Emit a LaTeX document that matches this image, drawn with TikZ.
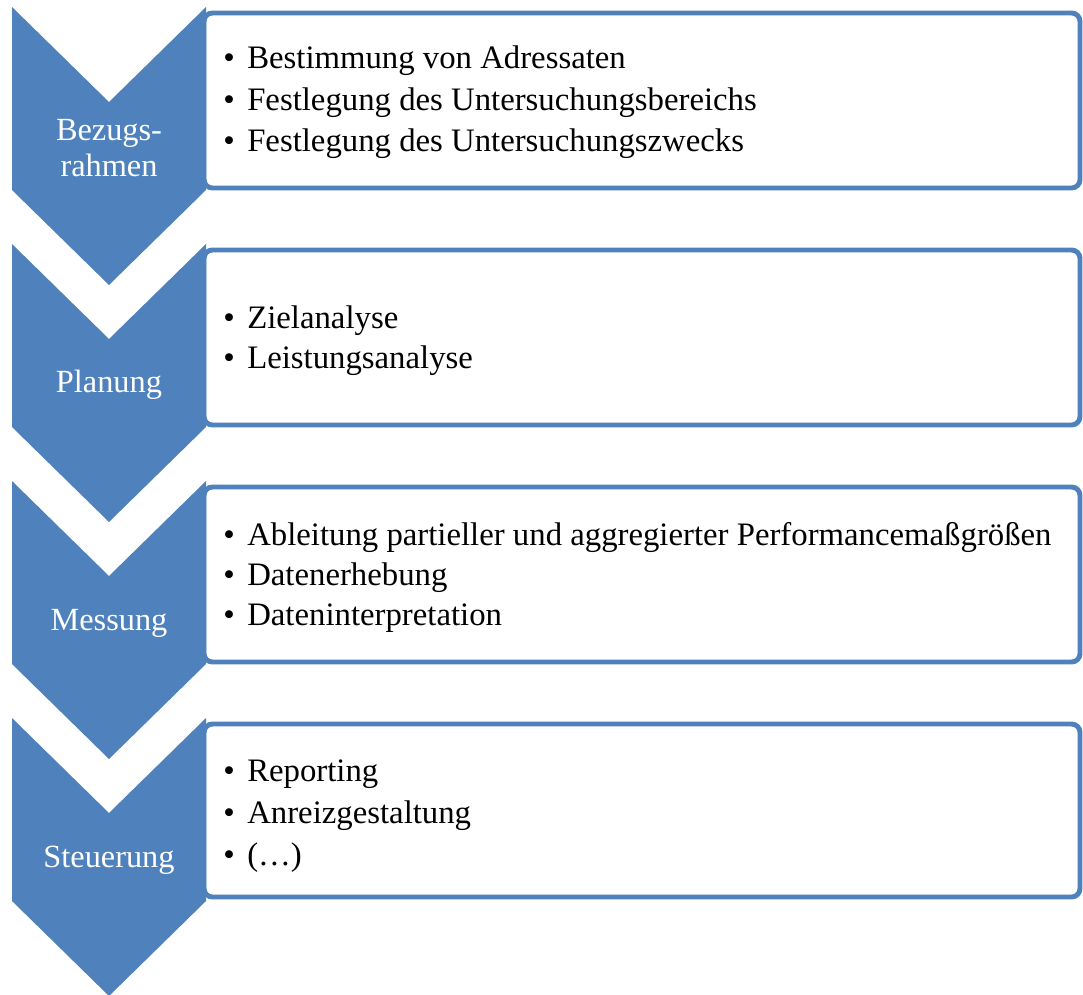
\documentclass[tikz,border=0pt]{standalone}
\usepackage{fontspec}
\setmainfont{Liberation Serif}
\definecolor{phaseblue}{RGB}{79,129,189}
\tikzset{
  phase/.style={fill=phaseblue},
  phaselabel/.style={text=white, font=\fontsize{23}{25}\selectfont, align=center},
  listbox/.style={draw=phaseblue, fill=white, line width=3.5pt, rounded corners=6pt},
  item/.style={anchor=base west, inner sep=0pt, font=\fontsize{23.3}{27}\selectfont}
}
\newcommand{\bul}{\makebox[0.6cm][l]{\textbullet}}
\begin{document}
\begin{tikzpicture}[x=0.025cm, y=-0.025cm]
      \useasboundingbox (0,0) rectangle (1083,994);
      % boxes
      \draw[listbox] (204,13) rectangle (1080,188);
      \draw[listbox] (204,250) rectangle (1080,425);
      \draw[listbox] (204,487) rectangle (1080,662);
      \draw[listbox] (204,724) rectangle (1080,897);
      % chevrons
      \foreach \t in {7,244,481,718}
        \fill[phase] (12,\t) -- (109,\t+95) -- (206,\t) -- (206,\t+183)
          -- (109,\t+278) -- (12,\t+183) -- cycle;
      % phase names
      \node[phaselabel] (p1) at (109,148) {Bezugs-\\rahmen};
      \node[phaselabel] (p2) at (109,385) {Planung};
      \node[phaselabel] (p3) at (109,623) {Messung};
      \node[phaselabel] (p4) at (109,860) {Steuerung};
      % items
      \node[item] (b1-1) at (223,68) {\bul Bestimmung von Adressaten};
      \node[item] (b1-2) at (223,110) {\bul Festlegung des Untersuchungsbereichs};
      \node[item] (b1-3) at (223,151) {\bul Festlegung des Untersuchungszwecks};
      \node[item] (b2-1) at (223,328) {\bul Zielanalyse};
      \node[item] (b2-2) at (223,368) {\bul Leistungsanalyse};
      \node[item] (b3-1) at (223,545) {\bul Ableitung partieller und aggregierter Performancemaßgrößen};
      \node[item] (b3-2) at (223,585) {\bul Datenerhebung};
      \node[item] (b3-3) at (223,625) {\bul Dateninterpretation};
      \node[item] (b4-1) at (223,781) {\bul Reporting};
      \node[item] (b4-2) at (223,823) {\bul Anreizgestaltung};
      \node[item] (b4-3) at (223,865) {\bul (\dots)};
    \end{tikzpicture}
\end{document}
